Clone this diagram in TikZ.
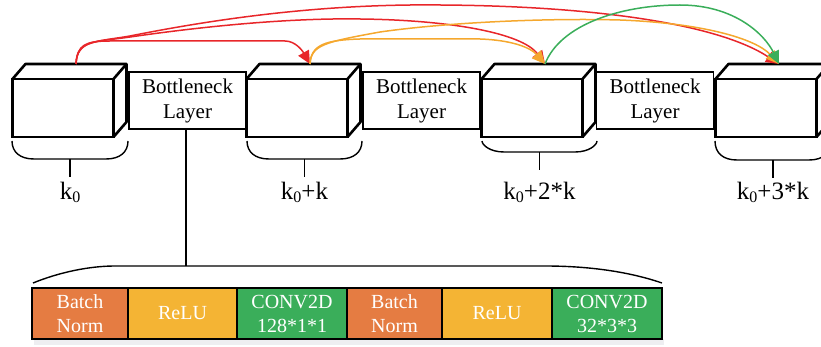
\documentclass[tikz,border=0pt]{standalone}
\usepackage{fontspec}
\setmainfont{Liberation Serif}
\usetikzlibrary{arrows.meta}
\definecolor{bnorange}{HTML}{E57C42}
\definecolor{reluyellow}{HTML}{F4B434}
\definecolor{convgreen}{HTML}{3AAE5A}
\definecolor{arrred}{HTML}{E8262A}
\definecolor{arrorange}{HTML}{F5A82E}
\definecolor{arrgreen}{HTML}{3AAE5A}
\begin{document}
\begin{tikzpicture}[x=1pt,y=-1pt,
  cubeface/.style={draw, line width=2.6pt, minimum width=101pt, minimum height=58pt, inner sep=0pt, outer sep=0pt, fill=white},
  cubeline/.style={line width=2.6pt, line join=round},
  bneck/.style={draw, line width=1.2pt, minimum width=117pt, minimum height=57pt, inner sep=0pt, outer sep=0pt, align=center, font=\fontsize{21}{25}\selectfont},
  brace/.style={line width=1.4pt},
  lbl/.style={inner sep=0pt, anchor=base, font=\fontsize{25}{25}\selectfont},
  blk/.style={draw, line width=2.6pt, minimum height=51pt, inner sep=0pt, outer sep=0pt, text=white, align=center, font=\fontsize{20}{24}\selectfont},
  conn/.style={line width=1.5pt, -{Triangle[length=13pt,width=12pt]}}
]
\useasboundingbox (0,0) rectangle (821,347);
\clip (0,0) rectangle (821,347);

% bottleneck layers
\node[bneck] (b1) at (187.5,100.5) {Bottleneck\\Layer};
\node[bneck] (b2) at (421.5,100.5) {Bottleneck\\Layer};
\node[bneck] (b3) at (655,100.5) {Bottleneck\\Layer};

% cubes
\foreach \i/\x in {1/63,2/297,3/532,4/766} {
  \node[cubeface] (c\i) at (\x,108) {};
  \draw[cubeline] (c\i.north west) -- ++(13,-15) -- ([shift={(13,-15)}]c\i.north east)
     -- ([shift={(13,-15)}]c\i.south east) -- (c\i.south east);
  \draw[cubeline] (c\i.north east) -- ++(13,-15);
  \coordinate (t\i) at ([shift={(13,-15)}]c\i.north);
}

% braces and labels
\foreach \i/\xl/\xr/\yb/\txt in {1/12/128/159/{k\raisebox{-0.25ex}{\fontsize{16}{16}\selectfont 0}},
    2/247/362/159/{k\raisebox{-0.25ex}{\fontsize{16}{16}\selectfont 0}+k},
    3/482/597/152/{k\raisebox{-0.25ex}{\fontsize{16}{16}\selectfont 0}+2*k},
    4/715/831/160/{k\raisebox{-0.25ex}{\fontsize{16}{16}\selectfont 0}+3*k}} {
  \pgfmathsetmacro{\xm}{(\xl+\xr)/2}
  \draw[brace] (\xl,141) .. controls (\xl,\yb-7) and (\xl+8,\yb) .. (\xl+22,\yb)
     -- (\xr-22,\yb) .. controls (\xr-8,\yb) and (\xr,\yb-7) .. (\xr,141);
  \coordinate (bm\i) at (\xm,\yb);
  \coordinate (te\i) at (\xm,\yb+18);
  \draw[brace] (bm\i) -- (te\i);
  \node[lbl] (l\i) at (\xm,200) {\txt};
}

% expansion of bottleneck layer
\coordinate (ex) at (186,266);
\draw[brace] (b1.south -| ex) -- (ex);
\draw[brace] (33,283) .. controls (60,272) and (90,266) .. (115,266) -- (ex)
   -- (545,266) .. controls (590,266) and (630,272) .. (662,283);

% layer blocks
\fill[blue!8!gray!12] (34,339) rectangle (664,345);
\node[blk, fill=bnorange, minimum width=96pt] (n1) at (80,313.5) {Batch\\Norm};
\node[blk, fill=reluyellow, minimum width=109pt] (n2) at (182.5,313.5) {ReLU};
\node[blk, fill=convgreen, minimum width=110pt] (n3) at (292,313.5) {CONV2D\\128*1*1};
\node[blk, fill=bnorange, minimum width=95pt] (n4) at (394.5,313.5) {Batch\\Norm};
\node[blk, fill=reluyellow, minimum width=110pt] (n5) at (497,313.5) {ReLU};
\node[blk, fill=convgreen, minimum width=110pt] (n6) at (607,313.5) {CONV2D\\32*3*3};

% dense connections
\draw[conn, arrred] (t1) .. controls (77,40) and (95,42) .. (130,36)
   .. controls (250,12) and (350,4) .. (440,5) .. controls (600,6) and (720,25) .. (t4);
\draw[conn, arrred] (t1) .. controls (77,40) and (95,42) .. (130,37)
   .. controls (220,24) and (300,18) .. (360,19) .. controls (450,20) and (522,33) .. (t3);
\draw[conn, arrred] (t1) .. controls (77,45) and (85,41) .. (110,41) -- (285,41)
   .. controls (295,41) and (302,50) .. (t2);
\draw[conn, arrorange] (t2) .. controls (311,45) and (325,42) .. (380,32)
   .. controls (450,22) and (550,18) .. (620,20) .. controls (700,23) and (755,38) .. (t4);
\draw[conn, arrorange] (t2) .. controls (311,45) and (325,40) .. (360,39) -- (480,39)
   .. controls (510,40) and (530,47) .. (t3);
\draw[conn, arrgreen] (t3) .. controls (560,25) and (620,5) .. (680,5)
   .. controls (735,5) and (765,35) .. (t4);
\end{tikzpicture}
\end{document}
